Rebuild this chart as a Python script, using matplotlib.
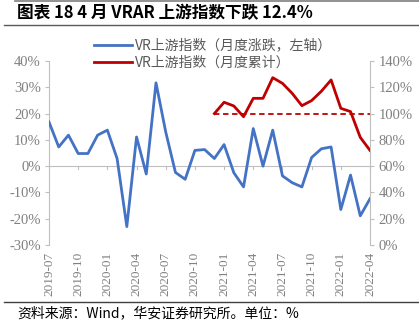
import matplotlib
matplotlib.use("Agg")
import matplotlib.pyplot as plt
import numpy as np
from matplotlib.lines import Line2D

plt.rcParams['font.family'] = ['Noto Sans CJK SC', 'DejaVu Sans']

# ---- data ----
months = ['2019-07','2019-08','2019-09','2019-10','2019-11','2019-12',
          '2020-01','2020-02','2020-03','2020-04','2020-05','2020-06',
          '2020-07','2020-08','2020-09','2020-10','2020-11','2020-12',
          '2021-01','2021-02','2021-03','2021-04','2021-05','2021-06',
          '2021-07','2021-08','2021-09','2021-10','2021-11','2021-12',
          '2022-01','2022-02','2022-03','2022-04']
monthly_change = [16.8, 7.3, 11.8, 4.8, 4.8, 11.8,
                  13.7, 2.9, -23.0, 11.1, -3.0, 31.7,
                  13.0, -2.4, -5.0, 6.0, 6.3, 2.9,
                  8.2, -2.5, -7.9, 14.3, 0.0, 13.7,
                  -3.7, -6.3, -7.9, 3.3, 6.6, 7.3,
                  -16.5, -3.4, -18.9, -12.4]
cumulative = [None]*17 + [100.0, 108.6, 105.8, 97.6, 111.6, 111.6, 127.3,
                          123.0, 115.4, 106.0, 109.9, 117.0, 125.6,
                          104.0, 101.5, 81.9, 72.0]
baseline = 100.0
tick_labels = months[::3]
legend_labels = ['VR上游指数（月度涨跌，左轴）', 'VR上游指数（月度累计）']
title = '图表 18 4 月 VRAR 上游指数下跌 12.4%'
source = '资料来源：Wind，华安证券研究所。单位：%'

W, H = 419, 331
fig = plt.figure(figsize=(W/100, H/100), dpi=100)

x = np.arange(len(months))
ax = fig.add_axes([49/W, 1-245/H, (370-49)/W, (245-61)/H])
ax2 = ax.twinx()

gray = '#808080'
spine_c = '#BFBFBF'

ax.plot(x, monthly_change, color='#4472C4', lw=2.0, zorder=3)
ax.set_ylim(-30, 40)
ax.set_yticks(np.arange(-30, 41, 10))
ax.set_yticklabels([f'{v}%' for v in range(-30, 41, 10)])
ax.set_xlim(0, len(months)-1)
ax.axhline(0, color=spine_c, lw=0.8, zorder=1)

cx = [i for i, v in enumerate(cumulative) if v is not None]
cy = [v for v in cumulative if v is not None]
ax2.plot(cx, cy, color='#C00000', lw=2.0, zorder=3)
ax2.plot([cx[0], cx[-1]], [baseline, baseline], color='#C00000', lw=1.3,
         ls=(0, (3, 2)), zorder=2)
ax2.set_ylim(0, 140)
ax2.set_yticks(np.arange(0, 141, 20))
ax2.set_yticklabels([f'{v}%' for v in range(0, 141, 20)])

# x tick labels at bottom, tick marks at zero line
ax.set_xticks(x[::3])
ax.set_xticklabels(tick_labels, rotation=90, fontfamily='Liberation Serif',
                   fontsize=9.5, color=gray)
ax.tick_params(axis='x', length=0, pad=5)
for xi in x[::3][1:]:
    ax.plot([xi, xi], [0, -1.2], color=spine_c, lw=0.8, zorder=1, clip_on=False)

for a in (ax, ax2):
    a.spines['top'].set_visible(False)
    a.spines['bottom'].set_visible(False)
    a.spines['left'].set_color(spine_c)
    a.spines['right'].set_color(spine_c)
    a.patch.set_alpha(0)
ax2.spines['left'].set_visible(False)
ax.spines['right'].set_visible(False)
ax.tick_params(axis='y', colors=gray, length=3, width=0.8, pad=3)
ax.tick_params(axis='y', color=spine_c)
ax2.tick_params(axis='y', colors=gray, length=3, width=0.8, pad=3)
ax2.tick_params(axis='y', color=spine_c)
for lab in ax.get_yticklabels() + ax2.get_yticklabels():
    lab.set_fontfamily('Liberation Serif')
    lab.set_fontsize(10.5)
    lab.set_color(gray)

# legend
handles = [Line2D([], [], color='#4472C4', lw=2.0),
           Line2D([], [], color='#C00000', lw=2.0)]
leg = fig.legend(handles, legend_labels, loc='upper left',
                 bbox_to_anchor=(88/W, 1-33/H), frameon=False,
                 fontsize=10, handlelength=2.8, handletextpad=0.2,
                 labelspacing=0.25, borderaxespad=0)
for t in leg.get_texts():
    t.set_color('#595959')

# title and rules
fig.text(17/W, 1-13/H, title, fontsize=12, fontweight='bold', va='center',
         ha='left', color='black')
fig.add_artist(Line2D([15/W, 1], [1-0.8/H, 1-0.8/H], color='#7F7F7F', lw=1.2))
fig.add_artist(Line2D([4/W, 1], [1-25/H, 1-25/H], color='#595959', lw=1.0))
fig.add_artist(Line2D([4/W, 1], [1-302/H, 1-302/H], color='#404040', lw=1.0))
fig.text(17/W, 1-313/H, source, fontsize=10, va='center', ha='left',
         color='black')

fig.savefig('out.png', dpi=100)
